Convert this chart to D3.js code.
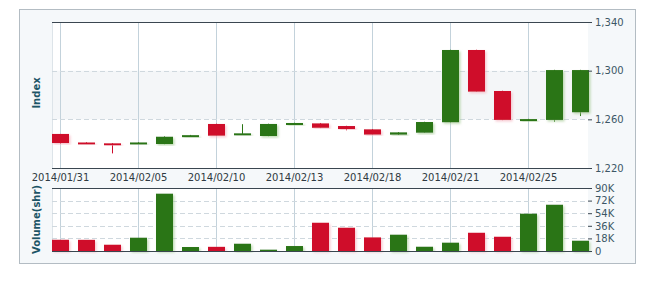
<!DOCTYPE html>
<html>
<head>
<meta charset="utf-8">
<script src="https://cdn.jsdelivr.net/npm/d3@7"></script>
<style>
    html, body { margin: 0; padding: 0; background: #ffffff; }
    svg { display: block; font-family: "DejaVu Sans", Verdana, sans-serif; }
</style>
</head>
<body>
<svg id="chart" width="650" height="284"></svg>
<script>
// Trading days (category axis)
const dates = [
    '2014/01/31', '2014/02/03', '2014/02/04', '2014/02/05', '2014/02/06',
    '2014/02/07', '2014/02/10', '2014/02/11', '2014/02/12', '2014/02/13',
    '2014/02/14', '2014/02/17', '2014/02/18', '2014/02/19', '2014/02/20',
    '2014/02/21', '2014/02/22', '2014/02/24', '2014/02/25', '2014/02/26',
    '2014/02/27'
];

// OHLC series
const opens  = [1248, 1241, 1240.3, 1240.5, 1239.7, 1246, 1256.2, 1247.5, 1246.3, 1256, 1256.7,
                1254.5, 1251.8, 1247.4, 1249, 1257.6, 1317, 1283.3, 1259.8, 1259.5, 1265.8];
const highs  = [1248, 1241.2, 1240.5, 1241.2, 1246, 1247.2, 1256.4, 1256, 1256.4, 1257.2, 1257,
                1254.7, 1252, 1249.5, 1258, 1317.2, 1317.2, 1283.5, 1260.4, 1300.7, 1300.7];
const lows   = [1239.8, 1240.3, 1232, 1240.3, 1239.5, 1245.8, 1246.3, 1247.3, 1246.1, 1255.8, 1252.8,
                1251, 1247.2, 1247.2, 1248.8, 1257.4, 1282.5, 1259.3, 1259.6, 1258, 1262.7];
const closes = [1240.5, 1240.5, 1239, 1241, 1245.7, 1247, 1246.5, 1248.5, 1256.2, 1257, 1253,
                1252, 1247.4, 1249.3, 1257.8, 1317, 1282.7, 1259.5, 1260.2, 1300.5, 1300.5];

// Volume (shares)
const volumes = [16100, 16000, 9000, 19000, 81900, 5700, 6000, 10400, 1900, 7100, 40400,
                 33300, 19500, 23300, 6100, 11900, 26100, 20400, 53300, 66100, 14700];

// Axis ticks
const dateTicks   = ['2014/01/31', '2014/02/05', '2014/02/10', '2014/02/13',
                     '2014/02/18', '2014/02/21', '2014/02/25'];
const priceTicks  = [1220, 1260, 1300, 1340];
const volumeTicks = [0, 18000, 36000, 54000, 72000, 90000];

// Layout and style constants
const LAYOUT = {
    frame: { x: 19.5, y: 9.5, w: 616, h: 254 },
    plotLeft: 52,
    plotRight: 588,
    firstCenter: 60,
    lastCenter: 580,
    price: { top: 22, bottom: 168 },
    volume: { top: 188, bottom: 251 },
    candleWidth: 17
};

const COLORS = {
    up: '#2a7514',
    down: '#cf0a2c',
    frameFill: '#f5f8fa',
    frameStroke: '#b3bcc3',
    band: '#f4f6f8',
    grid: '#c3d2db',
    dash: '#cfd8de',
    axisLine: '#3a4650',
    label: '#2f3a42',
    tickLabel: '#3c5766',
    title: '#1d5566'
};

const svg = d3.select('#chart');

// Soft shadows under bars
const defs = svg.append('defs');
[['shadow-up', '#a6cc94'], ['shadow-down', '#f4b4c0']].forEach(([id, color]) => {
    const f = defs.append('filter').attr('id', id)
        .attr('x', '-30%').attr('y', '-10%').attr('width', '170%').attr('height', '130%');
    f.append('feDropShadow')
        .attr('dx', 1.5).attr('dy', 1.5).attr('stdDeviation', 1.2)
        .attr('flood-color', color).attr('flood-opacity', 0.7);
});

// Scales
const x = d3.scalePoint()
    .domain(dates)
    .range([LAYOUT.firstCenter, LAYOUT.lastCenter]);

const yPrice = d3.scaleLinear()
    .domain([1220, 1340])
    .range([LAYOUT.price.bottom, LAYOUT.price.top]);

const yVol = d3.scaleLinear()
    .domain([0, 90000])
    .range([LAYOUT.volume.bottom, LAYOUT.volume.top]);

// Outer panel
svg.append('rect')
    .attr('x', LAYOUT.frame.x).attr('y', LAYOUT.frame.y)
    .attr('width', LAYOUT.frame.w).attr('height', LAYOUT.frame.h)
    .attr('fill', COLORS.frameFill)
    .attr('stroke', COLORS.frameStroke);

const plotW = LAYOUT.plotRight - LAYOUT.plotLeft;

// Plot backgrounds
svg.append('rect')
    .attr('x', LAYOUT.plotLeft).attr('y', LAYOUT.price.top)
    .attr('width', plotW).attr('height', LAYOUT.price.bottom - LAYOUT.price.top)
    .attr('fill', '#ffffff');
svg.append('rect')
    .attr('x', LAYOUT.plotLeft).attr('y', yPrice(1300))
    .attr('width', plotW).attr('height', yPrice(1260) - yPrice(1300))
    .attr('fill', COLORS.band);
svg.append('rect')
    .attr('x', LAYOUT.plotLeft).attr('y', LAYOUT.volume.top)
    .attr('width', plotW).attr('height', LAYOUT.volume.bottom - LAYOUT.volume.top)
    .attr('fill', '#ffffff');

// Left edge of plots
[[LAYOUT.price.top, LAYOUT.price.bottom], [LAYOUT.volume.top, LAYOUT.volume.bottom]]
    .forEach(([t, b]) => {
        svg.append('line')
            .attr('x1', LAYOUT.plotLeft + 0.5).attr('x2', LAYOUT.plotLeft + 0.5)
            .attr('y1', t).attr('y2', b)
            .attr('stroke', '#dde4e9');
    });

// Vertical grid lines at labelled dates
dateTicks.forEach(d => {
    const xp = Math.round(x(d)) + 0.5;
    [[LAYOUT.price.top, LAYOUT.price.bottom], [LAYOUT.volume.top, LAYOUT.volume.bottom]]
        .forEach(([t, b]) => {
            svg.append('line')
                .attr('x1', xp).attr('x2', xp)
                .attr('y1', t).attr('y2', b)
                .attr('stroke', COLORS.grid);
        });
});

// Horizontal dashed grid lines
svg.append('g')
    .selectAll('line')
    .data([1260, 1300])
    .join('line')
    .attr('x1', LAYOUT.plotLeft).attr('x2', LAYOUT.plotRight)
    .attr('y1', d => Math.round(yPrice(d)) + 0.5)
    .attr('y2', d => Math.round(yPrice(d)) + 0.5)
    .attr('stroke', COLORS.dash)
    .attr('stroke-dasharray', '5,3');

svg.append('g')
    .selectAll('line')
    .data(volumeTicks.slice(1, -1))
    .join('line')
    .attr('x1', LAYOUT.plotLeft).attr('x2', LAYOUT.plotRight)
    .attr('y1', d => Math.round(yVol(d)) + 0.5)
    .attr('y2', d => Math.round(yVol(d)) + 0.5)
    .attr('stroke', COLORS.dash)
    .attr('stroke-dasharray', '5,3');

// Candles
const candles = dates.map((d, i) => ({
    date: d, open: opens[i], high: highs[i], low: lows[i], close: closes[i], volume: volumes[i]
}));
const colorOf = c => (c.close >= c.open ? COLORS.up : COLORS.down);
const shadowOf = c => (c.close >= c.open ? 'url(#shadow-up)' : 'url(#shadow-down)');
const half = LAYOUT.candleWidth / 2;

const cg = svg.append('g');
cg.selectAll('.wick')
    .data(candles)
    .join('line')
    .attr('class', 'wick')
    .attr('x1', d => Math.round(x(d.date)) + 0.5)
    .attr('x2', d => Math.round(x(d.date)) + 0.5)
    .attr('y1', d => yPrice(d.high))
    .attr('y2', d => yPrice(d.low))
    .attr('stroke', colorOf);

cg.selectAll('.body')
    .data(candles)
    .join('rect')
    .attr('class', 'body')
    .attr('x', d => Math.round(x(d.date) - half))
    .attr('width', LAYOUT.candleWidth)
    .attr('y', d => yPrice(Math.max(d.open, d.close)))
    .attr('height', d => Math.max(2, Math.abs(yPrice(d.open) - yPrice(d.close))))
    .attr('fill', colorOf)
    .attr('filter', shadowOf);

// Volume bars
svg.append('g')
    .selectAll('rect')
    .data(candles)
    .join('rect')
    .attr('x', d => Math.round(x(d.date) - half))
    .attr('width', LAYOUT.candleWidth)
    .attr('y', d => yVol(d.volume))
    .attr('height', d => yVol(0) - yVol(d.volume))
    .attr('fill', colorOf)
    .attr('filter', shadowOf);

// Frame lines (top / bottom of each plot)
[LAYOUT.price.top, LAYOUT.price.bottom, LAYOUT.volume.top, LAYOUT.volume.bottom].forEach(yv => {
    svg.append('line')
        .attr('x1', LAYOUT.plotLeft).attr('x2', LAYOUT.plotRight + 4)
        .attr('y1', yv + 0.5).attr('y2', yv + 0.5)
        .attr('stroke', COLORS.axisLine);
});

// Right axes
const priceAxis = svg.append('g')
    .attr('transform', `translate(${LAYOUT.plotRight},0)`)
    .call(d3.axisRight(yPrice)
        .tickValues(priceTicks)
        .tickSize(4)
        .tickPadding(3)
        .tickFormat(d3.format(',')));

const volAxis = svg.append('g')
    .attr('transform', `translate(${LAYOUT.plotRight},0)`)
    .call(d3.axisRight(yVol)
        .tickValues(volumeTicks)
        .tickSize(4)
        .tickPadding(3)
        .tickFormat(d => d === 0 ? '0' : (d / 1000) + 'K'));

[priceAxis, volAxis].forEach(ax => {
    ax.select('.domain').remove();
    ax.selectAll('.tick line').attr('stroke', COLORS.axisLine);
    ax.selectAll('.tick text')
        .attr('fill', COLORS.tickLabel)
        .style('font-size', '10px')
        .style('font-family', '"DejaVu Sans", Verdana, sans-serif');
});

// Date labels
const dateAxis = svg.append('g')
    .attr('transform', `translate(0,${LAYOUT.price.bottom})`)
    .call(d3.axisBottom(x)
        .tickValues(dateTicks)
        .tickSize(0)
        .tickPadding(6));
dateAxis.select('.domain').remove();
dateAxis.selectAll('.tick text')
    .attr('fill', COLORS.label)
    .style('font-size', '10px')
    .style('font-family', '"DejaVu Sans", Verdana, sans-serif');

// Axis titles
svg.append('text')
    .attr('transform', `translate(40,${(LAYOUT.price.top + LAYOUT.price.bottom) / 2 - 2}) rotate(-90)`)
    .attr('text-anchor', 'middle')
    .attr('fill', COLORS.title)
    .style('font-size', '10px')
    .style('font-weight', 'bold')
    .text('Index');

svg.append('text')
    .attr('transform', `translate(40,${(LAYOUT.volume.top + LAYOUT.volume.bottom) / 2}) rotate(-90)`)
    .attr('text-anchor', 'middle')
    .attr('fill', COLORS.title)
    .style('font-size', '10px')
    .style('font-weight', 'bold')
    .text('Volume(shr)');
</script>
</body>
</html>
